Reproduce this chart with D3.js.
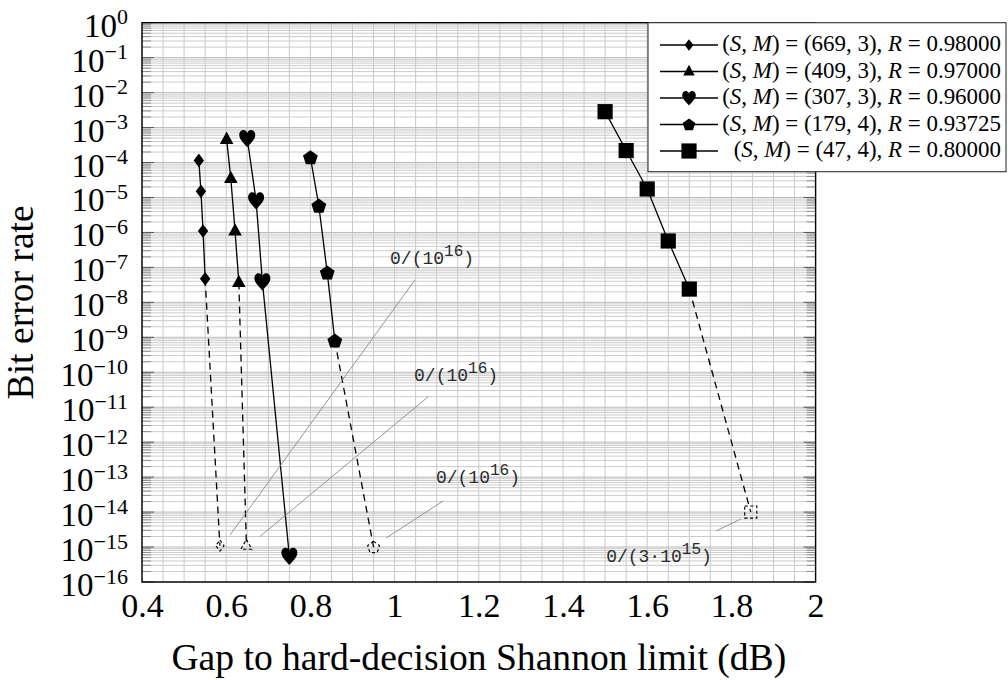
<!DOCTYPE html>
<html><head><meta charset="utf-8">
<script src="https://cdn.jsdelivr.net/npm/d3@7"></script>
<style>body{margin:0;background:#fff}svg{display:block}</style>
</head><body>
<svg id="c" width="1008" height="680"></svg>
<script>
// ---------- data ----------
const xTickValues = [0.4, 0.6, 0.8, 1.0, 1.2, 1.4, 1.6, 1.8, 2.0];
const xTickLabels = ["0.4", "0.6", "0.8", "1", "1.2", "1.4", "1.6", "1.8", "2"];
const yTickExponents = [0, -1, -2, -3, -4, -5, -6, -7, -8, -9, -10, -11, -12, -13, -14, -15, -16];

const legendSM = ["(669, 3)", "(409, 3)", "(307, 3)", "(179, 4)", "(47, 4)"];
const legendR = ["0.98000", "0.97000", "0.96000", "0.93725", "0.80000"];
const markerKinds = ["diamond", "triangle", "heart", "pentagon", "square"];

const s1X = [0.535, 0.540, 0.545, 0.550];
const s1Y = [1.15e-4, 1.5e-5, 1.1e-6, 4.7e-8];
const s2X = [0.601, 0.611, 0.621, 0.630];
const s2Y = [4.6e-4, 3.5e-5, 1.1e-6, 3.7e-8];
const s3X = [0.650, 0.671, 0.686, 0.750];
const s3Y = [4.9e-4, 8.1e-6, 3.9e-8, 5.5e-16];
const s4X = [0.800, 0.820, 0.840, 0.858];
const s4Y = [1.4e-4, 5.8e-6, 7.1e-8, 8.0e-10];
const s5X = [1.500, 1.550, 1.600, 1.650, 1.700];
const s5Y = [2.85e-3, 2.2e-4, 1.75e-5, 5.7e-7, 2.4e-8];

// zero-error points (dashed continuation), null = none
const endX = [0.585, 0.648, null, 0.950, 1.846];
const endY = [1.1e-15, 1.1e-15, null, 1.0e-15, 1.0e-14];

// annotations
const annBase = ["0/(10", "0/(10", "0/(10", "0/(3\u00b710"];
const annSup = ["16", "16", "16", "15"];
const annLabelX = [1.089, 1.146, 1.198, 1.628];
const annLabelY = [1.24e-7, 5.6e-11, 6.7e-14, 3.7e-16];
const annPinFromX = [0.609, 0.680, 0.9796, 1.823];
const annPinFromY = [2.2e-15, 2.0e-15, 1.8e-15, 6.4e-15];
const annPinToX = [1.0485, 1.080, 1.1157, 1.764];
const annPinToY = [4.4e-8, 2.0e-11, 2.1e-14, 2.9e-15];

// ---------- layout ----------
const L = 142, R = 815.6, T = 22.7, B = 582;
const svg = d3.select("#c");
const x = d3.scaleLinear().domain([0.4, 2.0]).range([L, R]);
const y = d3.scaleLog().domain([1e-16, 1]).range([B, T]);
const FONT = "'Liberation Serif','Times New Roman',serif";

const seriesX = [s1X, s2X, s3X, s4X, s5X];
const seriesY = [s1Y, s2Y, s3Y, s4Y, s5Y];

// ---------- grid ----------
const grid = svg.append("g");
const vLines = d3.range(0, 33).map(i => 0.4 + i * 0.05);
grid.selectAll("line.v").data(vLines).join("line")
  .attr("x1", d => x(d)).attr("x2", d => x(d)).attr("y1", T).attr("y2", B)
  .attr("stroke", "#c9c9c9").attr("stroke-width", 1);
const hMinor = [];
for (let e = -16; e < 0; e++) for (let m = 2; m <= 9; m++) hMinor.push(m * Math.pow(10, e));
const hMajor = yTickExponents.map(e => Math.pow(10, e));
grid.selectAll("line.hm").data(hMinor).join("line")
  .attr("x1", L).attr("x2", R).attr("y1", d => y(d)).attr("y2", d => y(d))
  .attr("stroke", "#cccccc").attr("stroke-width", 1);
grid.selectAll("line.hM").data(hMajor).join("line")
  .attr("x1", L).attr("x2", R).attr("y1", d => y(d)).attr("y2", d => y(d))
  .attr("stroke", "#bababa").attr("stroke-width", 1);
// minor ticks inside left/right
const tk = svg.append("g");
[[L, 1], [R, -1]].forEach(([x0, dir]) => {
  tk.selectAll(null).data(hMinor).join("line")
    .attr("x1", x0).attr("x2", x0 + dir * 9).attr("y1", d => y(d)).attr("y2", d => y(d))
    .attr("stroke", "#8f8f8f").attr("stroke-width", 1);
  tk.selectAll(null).data(hMajor).join("line")
    .attr("x1", x0).attr("x2", x0 + dir * 12).attr("y1", d => y(d)).attr("y2", d => y(d))
    .attr("stroke", "#555").attr("stroke-width", 1);
});

// ---------- axes ----------
const xAxis = d3.axisBottom(x).tickValues(xTickValues)
  .tickFormat((d, i) => xTickLabels[i]).tickSize(0);
const gx = svg.append("g").attr("transform", `translate(0,${B})`).call(xAxis);
gx.select(".domain").remove();
gx.selectAll("text").attr("y", 35).attr("dy", 0).attr("fill", "#000")
  .attr("font-family", FONT).attr("font-size", 34);

const yAxis = d3.axisLeft(y).tickValues(hMajor).tickFormat(() => "").tickSize(0);
const gy = svg.append("g").attr("transform", `translate(${L},0)`).call(yAxis);
gy.select(".domain").remove();
gy.selectAll(".tick").each(function (d, i) {
  const g = d3.select(this);
  g.select("text").remove();
  const t = g.append("text").attr("x", -14).attr("y", 13.5).attr("text-anchor", "end")
    .attr("font-family", FONT).attr("font-size", 33).attr("fill", "#000");
  t.append("tspan").text("10");
  const e = yTickExponents[i];
  t.append("tspan").attr("dy", -12.5).attr("font-size", 22)
    .text(e < 0 ? "\u2212" + (-e) : String(e));
});

// frame
svg.append("rect").attr("x", L).attr("y", T).attr("width", R - L).attr("height", B - T)
  .attr("fill", "none").attr("stroke", "#000").attr("stroke-width", 1.4);

// ---------- markers ----------
function markerPath(kind) {
  if (kind === "diamond") return "M0,-6.8L5.2,0L0,6.8L-5.2,0Z";
  if (kind === "triangle") return "M0,-7.8L6.8,4.6L-6.8,4.6Z";
  if (kind === "square") return "M-7.6,-7.6H7.6V7.6H-7.6Z";
  if (kind === "pentagon") {
    const r = 7.8;
    return d3.range(5).map((k, j) => {
      const a = -Math.PI / 2 + k * 2 * Math.PI / 5;
      return (j ? "L" : "M") + (r * Math.cos(a)).toFixed(2) + "," + (r * Math.sin(a) + 0.6).toFixed(2);
    }).join("") + "Z";
  }
  // heart
  const s = 16;
  const P = (a, b) => (a * s).toFixed(2) + "," + (b * s).toFixed(2);
  return "M" + P(0, 0.56) +
    "C" + P(-0.12, 0.38) + " " + P(-0.5, 0.08) + " " + P(-0.5, -0.2) +
    "C" + P(-0.5, -0.42) + " " + P(-0.36, -0.52) + " " + P(-0.25, -0.52) +
    "C" + P(-0.1, -0.52) + " " + P(0, -0.42) + " " + P(0, -0.3) +
    "C" + P(0, -0.42) + " " + P(0.1, -0.52) + " " + P(0.25, -0.52) +
    "C" + P(0.36, -0.52) + " " + P(0.5, -0.42) + " " + P(0.5, -0.2) +
    "C" + P(0.5, 0.08) + " " + P(0.12, 0.38) + " " + P(0, 0.56) + "Z";
}

// ---------- series ----------
const line = d3.line().x(d => x(d[0])).y(d => y(d[1]));
const plot = svg.append("g");
seriesX.forEach((xs, si) => {
  const pts = xs.map((v, i) => [v, seriesY[si][i]]);
  if (endX[si] !== null) {
    const last = pts[pts.length - 1];
    plot.append("path").attr("d", line([last, [endX[si], endY[si]]]))
      .attr("fill", "none").attr("stroke", "#000").attr("stroke-width", 1.3)
      .attr("stroke-dasharray", "7,5");
    plot.append("path").attr("d", markerPath(markerKinds[si]))
      .attr("transform", `translate(${x(endX[si])},${y(endY[si])}) scale(0.8)`)
      .attr("fill", "none").attr("stroke", "#000").attr("stroke-width", 1.4)
      .attr("stroke-dasharray", "4,3");
  }
  plot.append("path").attr("d", line(pts)).attr("fill", "none")
    .attr("stroke", "#000").attr("stroke-width", 1.3);
  plot.selectAll(null).data(pts).join("path")
    .attr("d", markerPath(markerKinds[si]))
    .attr("transform", d => `translate(${x(d[0])},${y(d[1])})`)
    .attr("fill", "#000");
});

// ---------- annotations ----------
const ann = svg.append("g");
annBase.forEach((b, i) => {
  ann.append("line")
    .attr("x1", x(annPinFromX[i])).attr("y1", y(annPinFromY[i]))
    .attr("x2", x(annPinToX[i])).attr("y2", y(annPinToY[i]))
    .attr("stroke", "#8a8a8a").attr("stroke-width", 0.9);
  const t = ann.append("text").attr("x", x(annLabelX[i])).attr("y", y(annLabelY[i]))
    .attr("text-anchor", "middle").attr("font-family", "'Liberation Mono','DejaVu Sans Mono',monospace")
    .attr("font-size", 18).attr("fill", "#2a2a2a");
  t.append("tspan").text(b);
  t.append("tspan").attr("dy", -8).attr("font-size", 16).text(annSup[i]);
  t.append("tspan").attr("dy", 8).text(")");
});

// ---------- legend ----------
const lg = svg.append("g");
lg.append("rect").attr("x", 648).attr("y", T).attr("width", 358).attr("height", 149)
  .attr("fill", "#fff").attr("stroke", "#333").attr("stroke-width", 1.1);
const rowY = [45, 71.5, 98, 124.5, 151];
const texts = [];
legendSM.forEach((sm, i) => {
  const cy = rowY[i];
  lg.append("line").attr("x1", 660).attr("x2", 718).attr("y1", cy).attr("y2", cy)
    .attr("stroke", "#000").attr("stroke-width", 1.3);
  lg.append("path").attr("d", markerPath(markerKinds[i]))
    .attr("transform", `translate(689,${cy})` + (markerKinds[i] === "square" ? "" : " scale(0.85)"))
    .attr("fill", "#000");
  const t = lg.append("text").attr("x", 1001).attr("y", cy + 6).attr("text-anchor", "end")
    .attr("font-family", FONT).attr("font-size", 18).attr("fill", "#000");
  t.append("tspan").text("(");
  t.append("tspan").attr("font-style", "italic").text("S");
  t.append("tspan").text(", ");
  t.append("tspan").attr("font-style", "italic").text("M");
  t.append("tspan").text(") = " + sm + ", ");
  t.append("tspan").attr("font-style", "italic").text("R");
  t.append("tspan").text(" = " + legendR[i]);
  texts.push(t);
});
const w0 = texts[0].node().getComputedTextLength();
const lfs = 18 * 279 / w0;
texts.forEach(t => t.attr("font-size", lfs));

// ---------- titles ----------
const xt = svg.append("text").attr("x", (L + R) / 2).attr("y", 670).attr("text-anchor", "middle")
  .attr("font-family", FONT).attr("font-size", 34).attr("fill", "#000")
  .text("Gap to hard-decision Shannon limit (dB)");
const tfs = 34 * 615 / xt.node().getComputedTextLength();
xt.attr("font-size", tfs);
svg.append("text").attr("transform", `translate(33,${(T + B) / 2}) rotate(-90)`)
  .attr("text-anchor", "middle").attr("font-family", FONT).attr("font-size", tfs)
  .attr("fill", "#000").text("Bit error rate");
</script>
</body></html>
